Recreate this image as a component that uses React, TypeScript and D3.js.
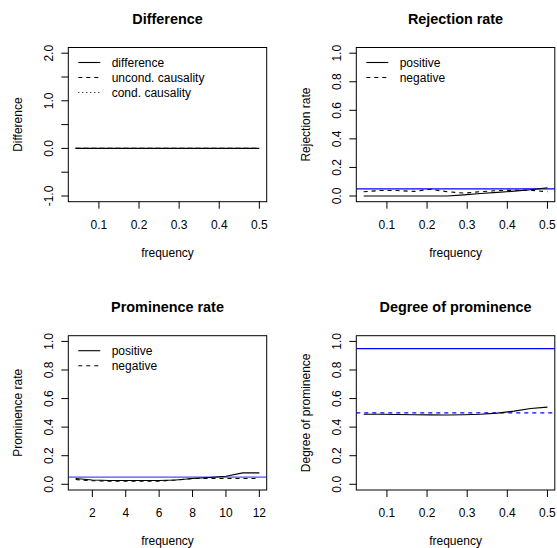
import React from "react";
import * as d3 from "d3";

// ---- data ----
const frequency = [0.042, 0.083, 0.125, 0.167, 0.208, 0.25, 0.292, 0.333, 0.375, 0.417, 0.458, 0.5];
const freqIndex = [1, 2, 3, 4, 5, 6, 7, 8, 9, 10, 11, 12];

const diffDifference = [0, 0, 0, 0, 0, 0, 0, 0, 0, 0, 0, 0];
const diffUncond = [0, 0, 0, 0, 0, 0, 0, 0, 0, 0, 0, 0];
const diffCond = [0, 0, 0, 0, 0, 0, 0, 0, 0, 0, 0, 0];

const rejPositive = [0, 0, 0, 0, 0, 0, 0.008, 0.017, 0.025, 0.034, 0.044, 0.058];
const rejNegative = [0.03, 0.038, 0.038, 0.032, 0.047, 0.03, 0.02, 0.03, 0.038, 0.04, 0.04, 0.03];

const promPositive = [0.04, 0.03, 0.027, 0.027, 0.027, 0.027, 0.03, 0.04, 0.047, 0.056, 0.08, 0.08];
const promNegative = [0.033, 0.025, 0.022, 0.022, 0.022, 0.022, 0.03, 0.04, 0.04, 0.04, 0.04, 0.04];

const degree = [0.49, 0.49, 0.488, 0.487, 0.486, 0.485, 0.487, 0.49, 0.498, 0.512, 0.53, 0.54];

const refRejection = [0.05];
const refProminence = [0.05];
const refDegree = [0.95, 0.5];

const ticksFreq = [0.1, 0.2, 0.3, 0.4, 0.5];
const ticksIndex = [2, 4, 6, 8, 10, 12];
const ticksDiffY = [-1, -0.5, 0, 0.5, 1, 1.5, 2];
const labelsDiffY = [-1, 0, 1, 2];
const ticksRateY = [0, 0.2, 0.4, 0.6, 0.8, 1.0];

const FONT = "'Liberation Sans', Arial, Helvetica, sans-serif";

type Series = { x: number[]; y: number[]; dash?: string; color?: string };
type HLine = { y: number; dash?: string; color: string };
type LegendItem = { label: string; dash?: string };

interface PanelProps {
  box: [number, number, number, number]; // x0, x1, y0, y1
  xData: number[];
  yLim: [number, number];
  xTicks: number[];
  xTickFmt: (v: number) => string;
  yTicks: number[];
  yLabels: number[];
  title: string;
  xLabel: string;
  yLabel: string;
  series: Series[];
  hlines: HLine[];
  legend?: LegendItem[];
  clipId: string;
}

function Panel(p: PanelProps) {
  const [x0, x1, y0, y1] = p.box;
  const xmin = d3.min(p.xData) as number;
  const xmax = d3.max(p.xData) as number;
  const xr = xmax - xmin;
  const yr = p.yLim[1] - p.yLim[0];
  const xs = d3.scaleLinear().domain([xmin - 0.04 * xr, xmax + 0.04 * xr]).range([x0, x1]);
  const ys = d3.scaleLinear().domain([p.yLim[0] - 0.04 * yr, p.yLim[1] + 0.04 * yr]).range([y1, y0]);
  const line = d3
    .line<[number, number]>()
    .x((d) => xs(d[0]))
    .y((d) => ys(d[1]));
  const tickLen = 7;
  const cx = (x0 + x1) / 2;
  const cy = (y0 + y1) / 2;
  return (
    <g>
      <defs>
        <clipPath id={p.clipId}>
          <rect x={x0} y={y0} width={x1 - x0} height={y1 - y0} />
        </clipPath>
      </defs>
      <g clipPath={`url(#${p.clipId})`}>
        {p.hlines.map((h, i) => (
          <line
            key={"h" + i}
            x1={x0}
            x2={x1}
            y1={ys(h.y)}
            y2={ys(h.y)}
            stroke={h.color}
            strokeWidth={1.2}
            strokeDasharray={h.dash}
          />
        ))}
        {p.series.map((s, i) => (
          <path
            key={"s" + i}
            d={line(s.x.map((v, j) => [v, s.y[j]] as [number, number])) || ""}
            fill="none"
            stroke={s.color || "#000"}
            strokeWidth={1.1}
            strokeDasharray={s.dash}
          />
        ))}
      </g>
      <rect x={x0} y={y0} width={x1 - x0} height={y1 - y0} fill="none" stroke="#000" strokeWidth={1} />
      {/* x axis */}
      {p.xTicks.map((t, i) => (
        <g key={"xt" + i}>
          <line x1={xs(t)} x2={xs(t)} y1={y1} y2={y1 + tickLen} stroke="#000" strokeWidth={1} />
          <text x={xs(t)} y={y1 + 26.8} textAnchor="middle" fontSize={12} fontFamily={FONT}>
            {p.xTickFmt(t)}
          </text>
        </g>
      ))}
      {/* y axis */}
      {p.yTicks.map((t, i) => (
        <line key={"yt" + i} x1={x0 - tickLen} x2={x0} y1={ys(t)} y2={ys(t)} stroke="#000" strokeWidth={1} />
      ))}
      {p.yLabels.map((t, i) => (
        <text
          key={"yl" + i}
          transform={`translate(${x0 - 15},${ys(t)}) rotate(-90)`}
          textAnchor="middle"
          fontSize={12}
          fontFamily={FONT}
        >
          {t.toFixed(1)}
        </text>
      ))}
      <text x={cx} y={y0 - 23.5} textAnchor="middle" fontSize={14.4} fontWeight="bold" fontFamily={FONT}>
        {p.title}
      </text>
      <text x={cx} y={y1 + 55} textAnchor="middle" fontSize={12} fontFamily={FONT}>
        {p.xLabel}
      </text>
      <text
        transform={`translate(${x0 - 46},${cy}) rotate(-90)`}
        textAnchor="middle"
        fontSize={12}
        fontFamily={FONT}
      >
        {p.yLabel}
      </text>
      {p.legend &&
        p.legend.map((l, i) => {
          const ly = y0 + 15 + i * 15;
          return (
            <g key={"lg" + i}>
              <line x1={x0 + 10} x2={x0 + 32} y1={ly} y2={ly} stroke="#000" strokeWidth={1.1} strokeDasharray={l.dash} />
              <text x={x0 + 43.4} y={ly + 4.3} fontSize={12} fontFamily={FONT}>
                {l.label}
              </text>
            </g>
          );
        })}
    </g>
  );
}

const DASH = "4,4";
const DOT = "1,3";
const fmt1 = (v: number) => v.toFixed(1);
const fmt0 = (v: number) => String(v);

export default function App() {
  const L: [number, number] = [68.3, 266.7];
  const R: [number, number] = [356.3, 554.8];
  const T: [number, number] = [47.5, 201.7];
  const B: [number, number] = [335.7, 490];
  return (
    <svg
      width={557}
      height={548}
      style={{ position: "absolute", left: 0, top: 0, background: "#fff" }}
      xmlns="http://www.w3.org/2000/svg"
    >
      <rect x={0} y={0} width={557} height={548} fill="#fff" />
      <Panel
        clipId="c1"
        box={[L[0], L[1], T[0], T[1]]}
        xData={frequency}
        yLim={[-1, 2]}
        xTicks={ticksFreq}
        xTickFmt={fmt1}
        yTicks={ticksDiffY}
        yLabels={labelsDiffY}
        title="Difference"
        xLabel="frequency"
        yLabel="Difference"
        series={[
          { x: frequency, y: diffDifference },
          { x: frequency, y: diffUncond, dash: DASH },
          { x: frequency, y: diffCond, dash: DOT },
        ]}
        hlines={[]}
        legend={[
          { label: "difference" },
          { label: "uncond. causality", dash: DASH },
          { label: "cond. causality", dash: DOT },
        ]}
      />
      <Panel
        clipId="c2"
        box={[R[0], R[1], T[0], T[1]]}
        xData={frequency}
        yLim={[0, 1]}
        xTicks={ticksFreq}
        xTickFmt={fmt1}
        yTicks={ticksRateY}
        yLabels={ticksRateY}
        title="Rejection rate"
        xLabel="frequency"
        yLabel="Rejection rate"
        series={[
          { x: frequency, y: rejPositive },
          { x: frequency, y: rejNegative, dash: DASH },
        ]}
        hlines={refRejection.map((v) => ({ y: v, color: "#0000ff" }))}
        legend={[{ label: "positive" }, { label: "negative", dash: DASH }]}
      />
      <Panel
        clipId="c3"
        box={[L[0], L[1], B[0], B[1]]}
        xData={freqIndex}
        yLim={[0, 1]}
        xTicks={ticksIndex}
        xTickFmt={fmt0}
        yTicks={ticksRateY}
        yLabels={ticksRateY}
        title="Prominence rate"
        xLabel="frequency"
        yLabel="Prominence rate"
        series={[
          { x: freqIndex, y: promPositive },
          { x: freqIndex, y: promNegative, dash: DASH },
        ]}
        hlines={refProminence.map((v) => ({ y: v, color: "#4d4dff" }))}
        legend={[{ label: "positive" }, { label: "negative", dash: DASH }]}
      />
      <Panel
        clipId="c4"
        box={[R[0], R[1], B[0], B[1]]}
        xData={frequency}
        yLim={[0, 1]}
        xTicks={ticksFreq}
        xTickFmt={fmt1}
        yTicks={ticksRateY}
        yLabels={ticksRateY}
        title="Degree of prominence"
        xLabel="frequency"
        yLabel="Degree of prominence"
        series={[{ x: frequency, y: degree }]}
        hlines={[
          { y: refDegree[0], color: "#0000ff" },
          { y: refDegree[1], color: "#0000ff", dash: DASH },
        ]}
      />
    </svg>
  );
}
